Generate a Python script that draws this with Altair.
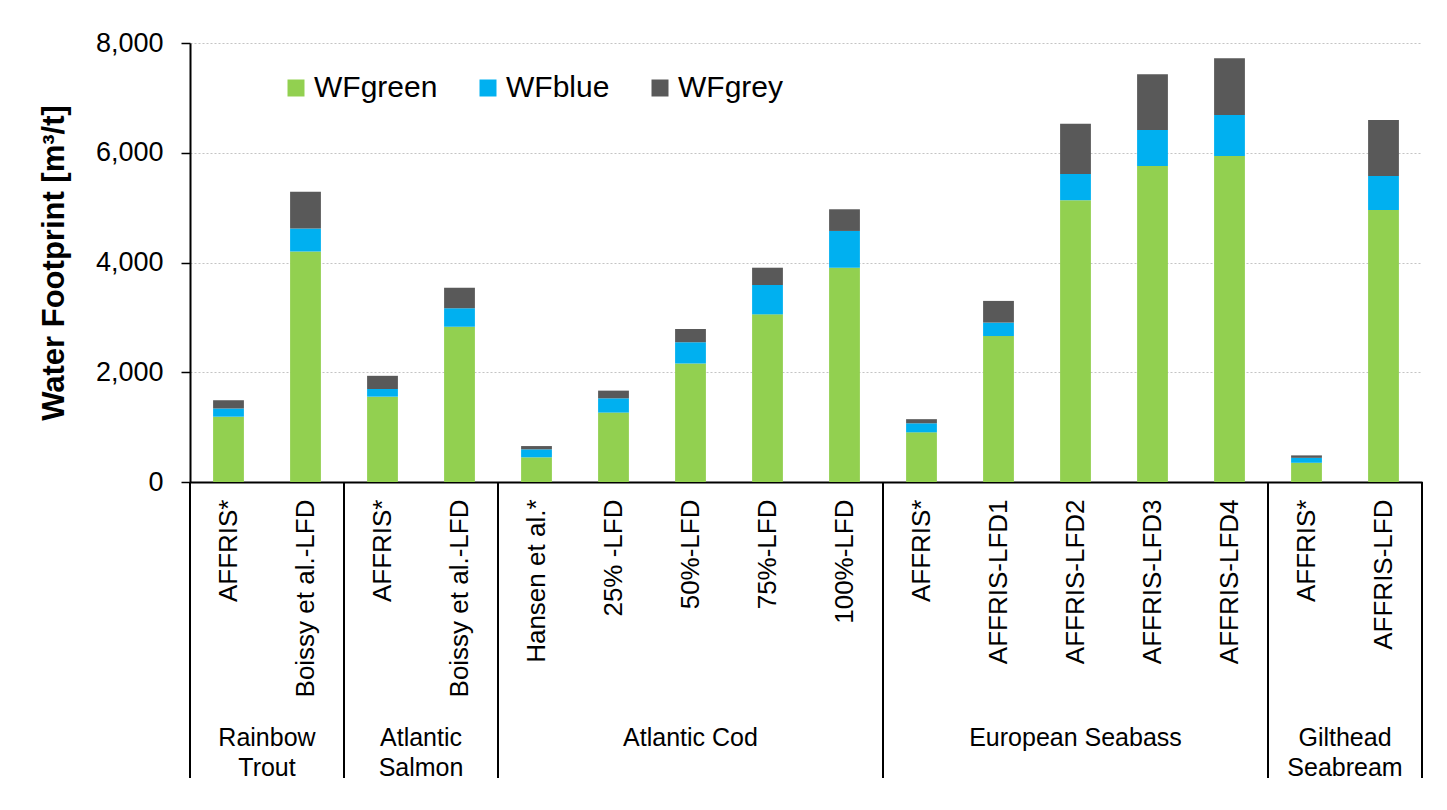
import altair as alt
import pandas as pd
import numpy as np

# ---- data ----
groups = ["Rainbow\nTrout", "Atlantic\nSalmon", "Atlantic Cod", "European Seabass", "Gilthead\nSeabream"]
group_sizes = [2, 2, 5, 5, 2]
categories = ["AFFRIS*", "Boissy et al.-LFD",
              "AFFRIS*", "Boissy et al.-LFD",
              "Hansen et al.*", "25% -LFD", "50%-LFD", "75%-LFD", "100%-LFD",
              "AFFRIS*", "AFFRIS-LFD1", "AFFRIS-LFD2", "AFFRIS-LFD3", "AFFRIS-LFD4",
              "AFFRIS*", "AFFRIS-LFD"]
wf_green = [1190, 4200, 1555, 2830, 450, 1265, 2160, 3055, 3905, 905, 2660, 5135, 5760, 5940, 350, 4955]
wf_blue = [150, 420, 140, 335, 145, 260, 385, 535, 670, 165, 245, 480, 655, 750, 90, 620]
wf_grey = [150, 670, 240, 375, 60, 140, 245, 315, 395, 75, 395, 915, 1015, 1030, 45, 1020]
series = ["WFgreen", "WFblue", "WFgrey"]
colors = ["#92D050", "#00B0F0", "#595959"]
y_ticks = [0, 2000, 4000, 6000, 8000]

# ---- tables ----
keys = [f"{i:02d}|{c}" for i, c in enumerate(categories)]
rows = []
for s_i, (name, vals) in enumerate(zip(series, [wf_green, wf_blue, wf_grey])):
    for k, v in zip(keys, vals):
        rows.append({"key": k, "series": name, "value": v, "order": s_i})
bars_df = pd.DataFrame(rows)

n = len(categories)
ends = np.cumsum(group_sizes)
starts = ends - np.array(group_sizes)
grp_df = pd.DataFrame({"group": groups, "start": starts, "end": ends,
                       "center": (starts + ends) / 2.0})
sep_df = pd.DataFrame({"pos": list(starts) + [n]})

W, H = 1232, 439
FONT = "Liberation Sans"

bars = alt.Chart(bars_df).mark_bar().encode(
    x=alt.X("key:N", sort=keys,
            scale=alt.Scale(paddingInner=0.6, paddingOuter=0.3),
            axis=alt.Axis(title=None, labelAngle=-90, labelAlign="right",
                          labelBaseline="middle", labelFontSize=26, labelPadding=17,
                          ticks=False, domainColor="#000000", domainWidth=2,
                          labelColor="#000000", labelLimit=500, labelOverlap=False,
                          labelExpr="split(datum.label, '|')[1]")),
    y=alt.Y("value:Q", stack="zero",
            scale=alt.Scale(domain=[0, 8000], nice=False),
            axis=alt.Axis(values=y_ticks, format=",.0f", labelFontSize=27,
                          labelColor="#000000", tickSize=9, tickColor="#000000",
                          tickWidth=1.5, domainColor="#000000", domainWidth=2,
                          labelPadding=18, grid=True, gridColor="#c4c4c4",
                          gridDash=[2, 2], gridWidth=1.2,
                          title="Water Footprint [m³/t]", titleFontSize=31,
                          titleFontWeight="bold", titleColor="#000000",
                          titleAngle=-90, titleX=-136, titleY=H / 2,
                          titleAlign="center", titleBaseline="middle")),
    color=alt.Color("series:N", scale=alt.Scale(domain=series, range=colors),
                    legend=alt.Legend(title=None, orient="none", direction="horizontal",
                                      legendX=91, legendY=30, padding=0,
                                      symbolType="square", symbolSize=289,
                                      symbolStrokeWidth=0, symbolOpacity=1,
                                      labelFontSize=30, labelColor="#000000",
                                      labelOffset=3, columnPadding=35,
                                      labelLimit=300)),
    order=alt.Order("order:Q", sort="ascending"),
)

seps = alt.Chart(sep_df).mark_rule(color="#000000", strokeWidth=2).encode(
    x=alt.X("pos:Q", scale=alt.Scale(domain=[0, n], nice=False, zero=False), axis=None),
    y=alt.value(H),
    y2=alt.value(735),
)

glabels = alt.Chart(grp_df).mark_text(fontSize=25, baseline="top", align="center",
                                      lineBreak="\n", lineHeight=30,
                                      color="#000000").encode(
    x=alt.X("center:Q", scale=alt.Scale(domain=[0, n], nice=False, zero=False), axis=None),
    y=alt.value(683),
    text="group:N",
)

chart = alt.layer(bars, seps, glabels).resolve_scale(x="independent").properties(
    width=W, height=H,
    autosize=alt.AutoSizeParams(type="none"),
    padding={"left": 190, "top": 43, "right": 25, "bottom": 328},
    background="#ffffff",
).configure(font=FONT).configure_view(strokeWidth=0)

chart.save("out.html", embed_options={"renderer": "svg", "actions": False})
